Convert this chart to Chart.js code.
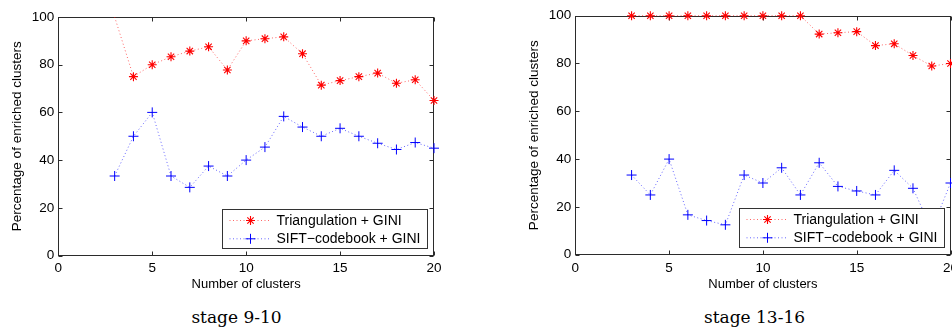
<!DOCTYPE html>
<html><head><meta charset="utf-8">
<script src="https://cdn.jsdelivr.net/npm/chart.js@4/dist/chart.umd.min.js"></script>
<style>
html,body{margin:0;padding:0;background:#fff}
body{width:952px;height:328px;overflow:hidden;position:relative}
.wrap{position:absolute;top:0;height:300px}
#w1{left:0;width:476px}
#w2{left:476px;width:500px}
.cap{position:absolute;top:309px;font-family:"DejaVu Serif",serif;font-size:17px;line-height:17px;white-space:nowrap;transform:translateX(-50%);color:#000}
</style></head>
<body>
<div class="wrap" id="w1"><canvas id="c1" width="476" height="300"></canvas></div>
<div class="wrap" id="w2"><canvas id="c2" width="500" height="300"></canvas></div>
<div class="cap" id="cap1" style="left:236.5px">stage 9-10</div>
<div class="cap" id="cap2" style="left:754.5px">stage 13-16</div>
<script>
// ---- data ----
const clusters = [3,4,5,6,7,8,9,10,11,12,13,14,15,16,17,18,19,20];
const seriesNames = ["Triangulation + GINI", "SIFT\u2212codebook + GINI"];
const xTicks = [0,5,10,15,20];
const yTicks = [0,20,40,60,80,100];
const xTitle = "Number of clusters";
const yTitle = "Percentage of enriched clusters";
// stage 9-10
const triStage910  = [100,75,80,83.33,85.71,87.5,77.78,90,90.91,91.67,84.62,71.43,73.33,75,76.47,72.22,73.68,65];
const siftStage910 = [33.33,50,60,33.33,28.57,37.5,33.33,40,45.45,58.33,53.85,50,53.33,50,47.06,44.44,47.37,45];
// stage 13-16
const triStage1316  = [100,100,100,100,100,100,100,100,100,100,92.31,92.86,93.33,87.5,88.24,83.33,78.95,80];
const siftStage1316 = [33.33,25,40,16.67,14.29,12.5,33.33,30,36.36,25,38.46,28.57,26.67,25,35.29,27.78,10.53,30];

const FONT = '"Liberation Sans", Arial, Helvetica, sans-serif';
const AXC = '#2b2b2b';

const boxPlugin = {
  id: 'matlabBox',
  beforeDatasetsDraw(chart) {
    const {ctx, chartArea: a, scales} = chart;
    ctx.save();
    ctx.strokeStyle = AXC; ctx.lineWidth = 1;
    const L = Math.round(a.left) + 0.5, R = Math.round(a.right) - 0.5;
    const T = Math.round(a.top) + 0.5, B = Math.round(a.bottom) - 0.5;
    ctx.strokeRect(L, T, R - L, B - T);
    const tl = 4;
    ctx.beginPath();
    scales.x.ticks.forEach(t => {
      const px = Math.round(scales.x.getPixelForValue(t.value)) + 0.5;
      ctx.moveTo(px, B); ctx.lineTo(px, B - tl);
      ctx.moveTo(px, T); ctx.lineTo(px, T + tl);
    });
    scales.y.ticks.forEach(t => {
      const py = Math.round(scales.y.getPixelForValue(t.value)) + 0.5;
      ctx.moveTo(L, py); ctx.lineTo(L + tl, py);
      ctx.moveTo(R, py); ctx.lineTo(R - tl, py);
    });
    ctx.stroke();
    ctx.restore();
  }
};

const legendPlugin = {
  id: 'boxLegend',
  afterDatasetsDraw(chart) {
    const {ctx, chartArea: a} = chart;
    ctx.save();
    ctx.font = '14px ' + FONT;
    const sets = chart.data.datasets;
    const maxW = Math.max(...sets.map(d => ctx.measureText(d.label).width));
    const w = Math.round(54 + maxW + 7), h = 39;
    const x1 = Math.round(a.right - 7 - w) + 0.5, y1 = Math.round(a.bottom - 7.5 - h) + 0.5;
    ctx.fillStyle = '#fff';
    ctx.fillRect(x1, y1, w, h);
    ctx.strokeStyle = '#333'; ctx.lineWidth = 1;
    ctx.strokeRect(x1, y1, w, h);
    sets.forEach((d, i) => {
      const y = y1 + 11 + i * 18.3;
      ctx.save();
      ctx.strokeStyle = d.borderColor; ctx.lineWidth = d.borderWidth;
      ctx.setLineDash(d.borderDash);
      ctx.beginPath(); ctx.moveTo(x1 + 7, y); ctx.lineTo(x1 + 47, y); ctx.stroke();
      ctx.restore();
      ctx.save();
      ctx.strokeStyle = d.pointBorderColor; ctx.fillStyle = 'rgba(0,0,0,0)';
      ctx.lineWidth = d.pointBorderWidth;
      Chart.helpers.drawPoint(ctx, {pointStyle: d.pointStyle, radius: d.pointRadiusBase, rotation: 0, borderWidth: d.pointBorderWidth}, x1 + 28, y);
      ctx.restore();
      ctx.fillStyle = '#000';
      ctx.textBaseline = 'middle'; ctx.textAlign = 'left';
      ctx.fillText(d.label, x1 + 54, y + 0.5);
    });
    ctx.restore();
  }
};

function makeChart(id, tri, sift, g) {
  const toPts = arr => clusters.map((c, i) => ({x: c, y: arr[i]}));
  const redDs = {
    label: seriesNames[0], data: toPts(tri), showLine: true,
    borderColor: 'rgba(255,0,0,0.6)', borderWidth: 1, borderDash: [1, 2.5],
    pointStyle: 'star', pointRadiusBase: 4.5,
    pointRadius: ctx => (g.hideTopFirst && ctx.dataIndex === 0) ? 0 : 4.5,
    pointHoverRadius: 4.5,
    pointBorderColor: '#ff0000', pointBackgroundColor: 'rgba(0,0,0,0)', pointBorderWidth: 1.1,
    clip: 8
  };
  const blueDs = {
    label: seriesNames[1], data: toPts(sift), showLine: true,
    borderColor: 'rgba(0,0,255,0.6)', borderWidth: 1, borderDash: [1, 2.5],
    pointStyle: 'cross', pointRadiusBase: 5, pointRadius: 5, pointHoverRadius: 5,
    pointBorderColor: '#0000ff', pointBackgroundColor: 'rgba(0,0,0,0)', pointBorderWidth: 1,
    clip: 8
  };
  const tickFont = {family: FONT, size: 13.5};
  return new Chart(document.getElementById(id), {
    type: 'scatter',
    data: {datasets: [redDs, blueDs]},
    options: {
      responsive: false, animation: false, devicePixelRatio: 1,
      events: [],
      layout: {padding: {left: 0, right: g.padRight, top: g.top, bottom: 0}},
      plugins: {legend: {display: false}, tooltip: {enabled: false}, title: {display: false}},
      scales: {
        x: {
          type: 'linear', min: 0, max: 20,
          afterBuildTicks: s => { s.ticks = xTicks.map(v => ({value: v})); },
          ticks: {font: tickFont, color: '#000', padding: 5, maxRotation: 0, autoSkip: false},
          grid: {display: true, drawOnChartArea: false, drawTicks: false},
          border: {display: false},
          title: {display: true, text: xTitle, font: {family: FONT, size: 13}, color: '#000', padding: {top: 0, bottom: 7.4}},
          afterFit: s => { s.height = g.xAxisH; }
        },
        y: {
          type: 'linear', min: 0, max: 100,
          afterBuildTicks: s => { s.ticks = yTicks.map(v => ({value: v})); },
          ticks: {font: tickFont, color: '#000', padding: 4},
          grid: {display: true, drawOnChartArea: false, drawTicks: false},
          border: {display: false},
          title: {display: true, text: yTitle, font: {family: FONT, size: 13.5}, color: '#000', padding: {top: g.yTitlePad, bottom: 0}},
          afterFit: s => { s.width = g.yAxisW; }
        }
      }
    },
    plugins: [boxPlugin, legendPlugin]
  });
}

makeChart('c1', triStage910, siftStage910, {top: 17, padRight: 42, xAxisH: 44.5, yAxisW: 58.3, yTitlePad: 8.9, hideTopFirst: true});
makeChart('c2', triStage1316, siftStage1316, {top: 15.7, padRight: 25.5, xAxisH: 45.3, yAxisW: 99.3, yTitlePad: 49.9, hideTopFirst: false});
</script>
</body></html>
